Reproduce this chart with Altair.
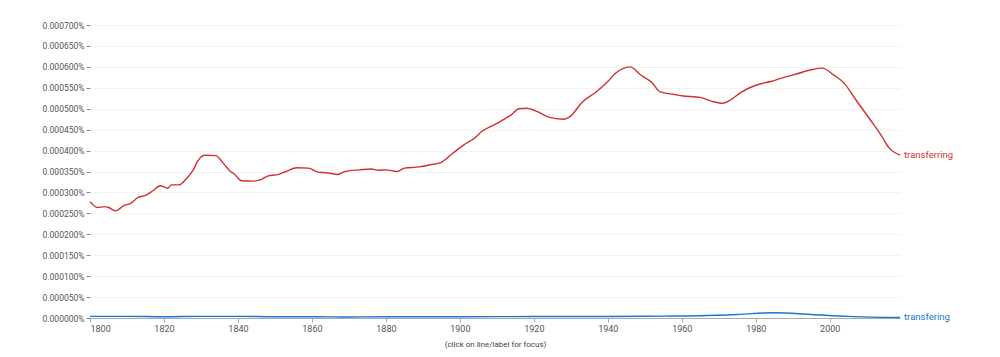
import altair as alt
import pandas as pd

series_names = ["transferring", "transfering"]
series_colors = ["#d32f2f", "#1976d2"]

red_years = [1800, 1802, 1804, 1805, 1807, 1809, 1811, 1813, 1815, 1817, 1819, 1821, 1822, 1824,
             1826, 1828, 1829, 1831, 1834, 1836, 1838, 1839, 1841, 1844, 1846, 1848, 1851, 1853,
             1856, 1859, 1862, 1864, 1867, 1869, 1873, 1876, 1878, 1880, 1883, 1885, 1889, 1892,
             1895, 1898, 1901, 1904, 1906, 1910, 1914, 1916, 1918, 1921, 1924, 1928, 1930, 1933,
             1937, 1940, 1942, 1946, 1949, 1952, 1954, 1958, 1960, 1965, 1968, 1971, 1973, 1976,
             1980, 1984, 1987, 1991, 1995, 1998, 2001, 2004, 2007, 2011, 2014, 2016, 2019]
red_vals = [0.000278, 0.000264, 0.000266, 0.000264, 0.000256, 0.000268, 0.000274, 0.000288,
            0.000293, 0.000304, 0.000316, 0.000310, 0.000318, 0.000318, 0.000332, 0.000355,
            0.000373, 0.000389, 0.000388, 0.000370, 0.000350, 0.000344, 0.000328, 0.000327,
            0.000330, 0.000339, 0.000343, 0.000350, 0.000359, 0.000358, 0.000348, 0.000347,
            0.000343, 0.000350, 0.000354, 0.000356, 0.000353, 0.000354, 0.000350, 0.000358,
            0.000361, 0.000366, 0.000372, 0.000393, 0.000413, 0.000430, 0.000446, 0.000465,
            0.000486, 0.000500, 0.000501, 0.000493, 0.000480, 0.000475, 0.000483, 0.000515,
            0.000541, 0.000565, 0.000584, 0.000600, 0.000580, 0.000562, 0.000541, 0.000534,
            0.000531, 0.000527, 0.000518, 0.000513, 0.000520, 0.000539, 0.000556, 0.000565,
            0.000573, 0.000583, 0.000593, 0.000597, 0.000581, 0.000560, 0.000522, 0.000473,
            0.000435, 0.000407, 0.000389]

blue_years = [1800, 1810, 1820, 1830, 1840, 1850, 1860, 1870, 1880, 1900, 1920, 1940, 1955,
              1965, 1975, 1985, 1995, 2005, 2019]
blue_vals = [0.0000040, 0.0000040, 0.0000030, 0.0000040, 0.0000040, 0.0000030, 0.0000030,
             0.0000025, 0.0000030, 0.0000030, 0.0000035, 0.0000035, 0.0000045, 0.0000055,
             0.0000085, 0.0000127, 0.0000085, 0.0000040, 0.0000012]

x_ticks = [1800, 1820, 1840, 1860, 1880, 1900, 1920, 1940, 1960, 1980, 2000]
y_ticks = [0.0, 0.00005, 0.0001, 0.00015, 0.0002, 0.00025, 0.0003, 0.00035, 0.0004,
           0.00045, 0.0005, 0.00055, 0.0006, 0.00065, 0.0007]

df = pd.concat([
    pd.DataFrame({"year": red_years, "value": red_vals, "series": series_names[0]}),
    pd.DataFrame({"year": blue_years, "value": blue_vals, "series": series_names[1]}),
])
last = df.sort_values("year").groupby("series").tail(1)

font = "Roboto"
color_scale = alt.Scale(domain=series_names, range=series_colors)

x_enc = alt.X("year:Q", scale=alt.Scale(domain=[1800, 2019], nice=False, zero=False),
              axis=alt.Axis(values=x_ticks, format="d", grid=False,
                            title="(click on line/label for focus)", titleFont=font,
                            titleFontSize=8, titleFontWeight="normal", titleColor="#444",
                            titlePadding=7, labelFont=font, labelFontSize=9,
                            labelColor="#555", domainColor="#aaa", tickColor="#aaa",
                            tickSize=4, labelPadding=2, labelOverlap=False))
y_enc = alt.Y("value:Q", scale=alt.Scale(domain=[0, 0.0007], nice=False),
              axis=alt.Axis(values=y_ticks, labelExpr="format(datum.value, '.6f') + '%'",
                            title=None, domain=False, grid=True, gridColor="#f3f3f3",
                            labelFont=font, labelFontSize=8.5, labelColor="#555",
                            tickColor="#888", tickSize=4, labelPadding=2,
                            labelOverlap=False))
c_enc = alt.Color("series:N", scale=color_scale, legend=None)

lines = alt.Chart(df).mark_line(strokeWidth=1.4, interpolate="monotone").encode(
    x=x_enc, y=y_enc, color=c_enc, order="year:Q",
)
labels = alt.Chart(last).mark_text(align="left", baseline="middle", dx=4, font=font,
                                   fontSize=9.5).encode(
    x=x_enc, y=y_enc, text="series:N", color=c_enc,
)

chart = (lines + labels).properties(
    width=810, height=293,
    autosize=alt.AutoSizeParams(type="none"),
    padding={"left": 90, "top": 25, "right": 100, "bottom": 39},
).configure_view(stroke=None)

chart.save("out.html", embed_options={"renderer": "svg", "actions": False})
